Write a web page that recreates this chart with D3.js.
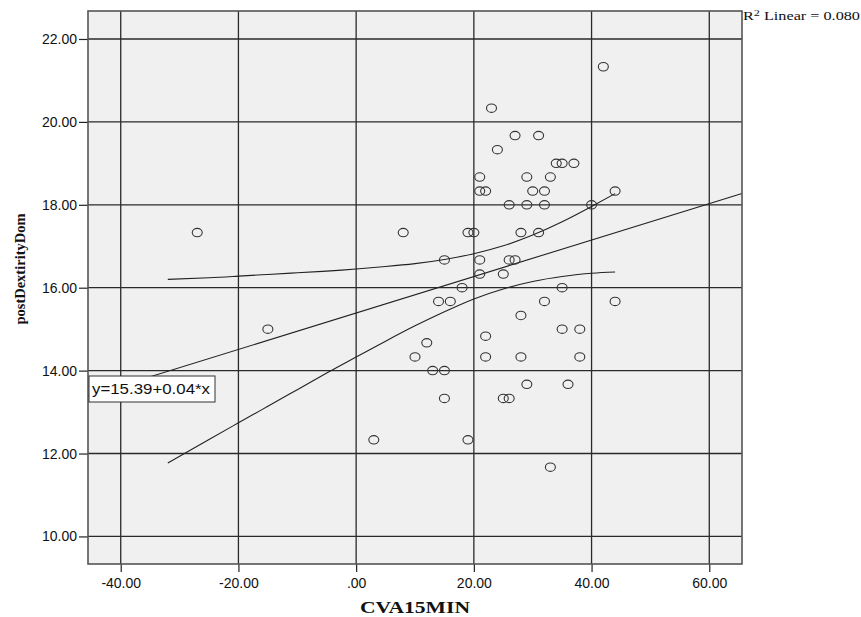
<!DOCTYPE html>
<html><head><meta charset="utf-8">
<script src="https://cdn.jsdelivr.net/npm/d3@7"></script>
<style>body{margin:0;background:#fff}svg{display:block}</style>
</head><body>
<script>
// ---- data ----
const xValues = [42,23,27,31,24,34,35,37,21,29,33,21,22,30,32,44,26,29,32,40,8,19,20,28,31,
  15,21,26,27,21,25,18,35,14,16,32,44,28,35,38,22,12,10,22,28,38,13,15,29,36,15,25,26,19,33,-27,-15,3];
const yValues = [21.33,20.33,19.67,19.67,19.33,19,19,19,18.67,18.67,18.67,18.33,18.33,18.33,18.33,18.33,18,18,18,18,17.33,17.33,17.33,17.33,17.33,
  16.67,16.67,16.67,16.67,16.33,16.33,16,16,15.67,15.67,15.67,15.67,15.33,15,15,14.83,14.67,14.33,14.33,14.33,14.33,14,14,13.67,13.67,13.33,13.33,13.33,12.33,11.67,17.33,15,12.33];
const xTicks = [-40,-20,0,20,40,60];
const xTickLabels = ["-40.00","-20.00",".00","20.00","40.00","60.00"];
const yTicks = [10,12,14,16,18,20,22];
const yTickLabels = ["10.00","12.00","14.00","16.00","18.00","20.00","22.00"];
const fitIntercept = 15.39, fitSlope = 0.044;
const ciX = [-32,-25,-20,-15,-10,-5,0,5,10,15,20,25,30,35,40,44];
const ciUpper = [16.20,16.24,16.28,16.32,16.36,16.40,16.45,16.51,16.58,16.68,16.82,17.01,17.27,17.59,17.96,18.27];
const ciLower = [11.77,12.34,12.74,13.14,13.54,13.94,14.33,14.71,15.08,15.42,15.73,15.97,16.15,16.27,16.35,16.38];
const xTitle = "CVA15MIN", yTitle = "postDextirityDom";
const equationText = "y=15.39+0.04*x";

// ---- layout ----
const W = 861, H = 617;
const L = 88, R = 742, T = 11, B = 564;
const svg = d3.select("body").append("svg").attr("width", W).attr("height", H);
const x = d3.scaleLinear().domain([-45.56, 65.56]).range([L, R]);
const y = d3.scaleLinear().domain([9.335, 22.675]).range([B, T]);

svg.append("rect").attr("x", L).attr("y", T).attr("width", R - L).attr("height", B - T)
  .attr("fill", "#f0f0f0");

// gridlines
const g = svg.append("g");
g.selectAll(".vg").data(xTicks).join("line")
  .attr("x1", d => x(d)).attr("x2", d => x(d)).attr("y1", T).attr("y2", B)
  .attr("stroke", "#2a2a2a").attr("stroke-width", 1.3);
g.selectAll(".hg").data(yTicks).join("line")
  .attr("y1", d => y(d)).attr("y2", d => y(d)).attr("x1", L).attr("x2", R)
  .attr("stroke", "#2a2a2a").attr("stroke-width", 1.3);

// axes
const xAxis = d3.axisBottom(x).tickValues(xTicks).tickFormat((d, i) => xTickLabels[i])
  .tickSize(8).tickPadding(4);
const yAxis = d3.axisLeft(y).tickValues(yTicks).tickFormat((d, i) => yTickLabels[i])
  .tickSize(9).tickPadding(2);
const gx = svg.append("g").attr("transform", `translate(0,${B})`).call(xAxis);
const gy = svg.append("g").attr("transform", `translate(${L},0)`).call(yAxis);
[gx, gy].forEach(a => {
  a.select(".domain").remove();
  a.selectAll("line").attr("stroke", "#222").attr("stroke-width", 1.2);
  a.selectAll("text").attr("fill", "#111").style("font-family", "'Liberation Sans', Arial, sans-serif")
    .style("font-size", "14px");
});
gx.selectAll("text").attr("dy", "0.85em");

// fit line
const line = d3.line().x(d => x(d[0])).y(d => y(d[1]));
const xd = x.domain();
svg.append("path").datum(xd.map(v => [v, fitIntercept + fitSlope * v]))
  .attr("d", line).attr("fill", "none").attr("stroke", "#222").attr("stroke-width", 1.1);
const cline = d3.line().x(d => x(d[0])).y(d => y(d[1])).curve(d3.curveNatural);
svg.append("path").datum(ciX.map((v, i) => [v, ciUpper[i]]))
  .attr("d", cline).attr("fill", "none").attr("stroke", "#222").attr("stroke-width", 1.1);
svg.append("path").datum(ciX.map((v, i) => [v, ciLower[i]]))
  .attr("d", cline).attr("fill", "none").attr("stroke", "#222").attr("stroke-width", 1.1);

// points
svg.append("g").selectAll("ellipse").data(xValues.map((v, i) => [v, yValues[i]])).join("ellipse")
  .attr("cx", d => x(d[0])).attr("cy", d => y(d[1])).attr("rx", 5).attr("ry", 4.2)
  .attr("fill", "none").attr("stroke", "#333").attr("stroke-width", 1.1);

// frame
svg.append("rect").attr("x", L).attr("y", T).attr("width", R - L).attr("height", B - T)
  .attr("fill", "none").attr("stroke", "#555").attr("stroke-width", 1.6);

// equation box
const eq = svg.append("g");
eq.append("rect").attr("x", 89).attr("y", 376).attr("width", 126).attr("height", 26)
  .attr("fill", "#fff").attr("stroke", "#333").attr("stroke-width", 1);
eq.append("text").attr("x", 92).attr("y", 394).text(equationText)
  .style("font-family", "'Liberation Sans', Arial, sans-serif").style("font-size", "14px").attr("fill", "#111")
  .attr("textLength", 118).attr("lengthAdjust", "spacingAndGlyphs");

// R2 label
const r2 = svg.append("text").attr("x", 743).attr("y", 20)
  .style("font-family", "'Liberation Serif', 'Times New Roman', serif").style("font-size", "12px").attr("fill", "#111")
  .attr("textLength", 117).attr("lengthAdjust", "spacingAndGlyphs");
r2.append("tspan").text("R");
r2.append("tspan").attr("dy", -4).style("font-size", "9px").text("2");
r2.append("tspan").attr("dy", 4).text(" Linear = 0.080");

// axis titles
svg.append("text").attr("x", (L + R) / 2).attr("y", 613).attr("text-anchor", "middle")
  .style("font-family", "'Liberation Serif', 'Times New Roman', serif").style("font-size", "17px")
  .style("font-weight", "bold").attr("fill", "#111").text(xTitle)
  .attr("textLength", 110).attr("lengthAdjust", "spacingAndGlyphs");
svg.append("text").attr("transform", "translate(25,269) rotate(-90)").attr("text-anchor", "middle")
  .style("font-family", "'Liberation Serif', 'Times New Roman', serif").style("font-size", "14.5px")
  .style("font-weight", "bold").attr("fill", "#111").text(yTitle);
</script>
</body></html>
